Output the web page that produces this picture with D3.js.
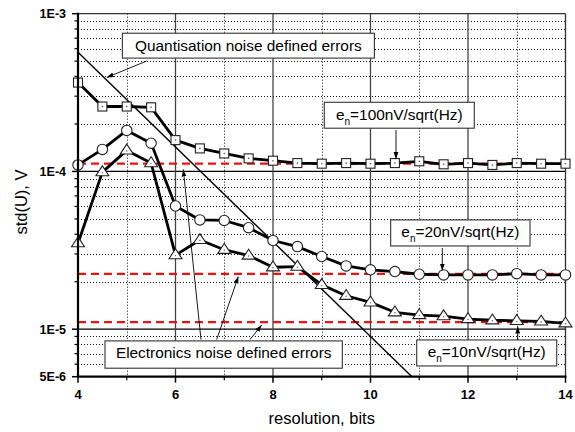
<!DOCTYPE html>
<html>
<head>
<meta charset="utf-8">
<script src="https://cdn.jsdelivr.net/npm/d3@7"></script>
<style>
  html, body { margin: 0; padding: 0; background: #fff; }
  svg { display: block; }
  text { font-family: Arial, "Liberation Sans", sans-serif; }
</style>
</head>
<body>
<svg id="chart" width="575" height="432"></svg>
<script>
// ---------------- data ----------------
const bits = [4, 4.5, 5, 5.5, 6, 6.5, 7, 7.5, 8, 8.5, 9, 9.5, 10, 10.5, 11, 11.5, 12, 12.5, 13, 13.5, 14];
const en100 = [3.66e-4, 2.58e-4, 2.58e-4, 2.55e-4, 1.58e-4, 1.40e-4, 1.30e-4, 1.21e-4, 1.17e-4, 1.13e-4, 1.12e-4, 1.13e-4, 1.12e-4, 1.13e-4, 1.16e-4, 1.11e-4, 1.13e-4, 1.10e-4, 1.13e-4, 1.12e-4, 1.12e-4];
const en20 = [1.10e-4, 1.38e-4, 1.82e-4, 1.51e-4, 6.04e-5, 4.93e-5, 4.89e-5, 4.40e-5, 3.65e-5, 3.34e-5, 2.89e-5, 2.52e-5, 2.38e-5, 2.32e-5, 2.23e-5, 2.21e-5, 2.21e-5, 2.21e-5, 2.25e-5, 2.21e-5, 2.21e-5];
const en10 = [3.51e-5, 9.9e-5, 1.36e-4, 1.13e-4, 2.95e-5, 3.68e-5, 3.19e-5, 2.93e-5, 2.47e-5, 2.49e-5, 1.91e-5, 1.63e-5, 1.48e-5, 1.28e-5, 1.23e-5, 1.21e-5, 1.16e-5, 1.14e-5, 1.13e-5, 1.12e-5, 1.09e-5];
const electronicsLevels = [1.12e-4, 2.24e-5, 1.11e-5];
const quantBits = [4, 10.85];
const quantVals = [5.7e-4, 5e-6];

const xTicks = [4, 6, 8, 10, 12, 14];
const xMinorTicks = [5, 7, 9, 11, 13];
const yTickVals = [1e-3, 1e-4, 1e-5, 5e-6];
const yTickLabels = ["1E-3", "1E-4", "1E-5", "5E-6"];
const yMinorVals = [2e-4, 3e-4, 4e-4, 5e-4, 6e-4, 7e-4, 8e-4, 9e-4,
                    2e-5, 3e-5, 4e-5, 5e-5, 6e-5, 7e-5, 8e-5, 9e-5,
                    6e-6, 7e-6, 8e-6, 9e-6];
const xTitle = "resolution, bits";
const yTitle = "std(U), V";

// annotation boxes (data coords): [x0, x1, yTop, yBottom]
const boxQuant = [4.91, 10.08, 7.52e-4, 5.23e-4];
const box100 = [9.052, 12.129, 2.745e-4, 1.88e-4];
const box20 = [10.414, 13.272, 4.93e-5, 3.37e-5];
const box10 = [10.948, 13.82, 8.55e-6, 5.85e-6];
const boxElec = [4.554, 9.422, 8.43e-6, 5.66e-6];
// arrows (data coords): [xFrom, yFrom, xTo, yTo]
const arrows = [
  [5.407, 5.01e-4, 4.589, 3.94e-4],
  [10.523, 1.83e-4, 10.523, 1.20e-4],
  [11.473, 3.27e-5, 11.473, 2.35e-5],
  [13.02, 8.55e-6, 13.02, 1.04e-5],
  [6.523, 8.6e-6, 6.16, 1.03e-4],
  [6.845, 8.6e-6, 7.288, 2.16e-5],
  [7.528, 8.6e-6, 7.768, 1.064e-5]
];

// ---------------- chart ----------------
const svg = d3.select("#chart");
const x = d3.scaleLinear().domain([4, 14]).range([78, 565.5]);
const y = d3.scaleLog().domain([5e-6, 1e-3]).range([376.7, 13.7]);
const [X0, X1] = x.range();
const [Y0, Y1] = y.range();

svg.append("defs").append("marker")
  .attr("id", "ah").attr("viewBox", "0 0 10 10")
  .attr("refX", 10).attr("refY", 5)
  .attr("markerWidth", 7).attr("markerHeight", 7)
  .attr("markerUnits", "userSpaceOnUse")
  .attr("orient", "auto")
  .append("path").attr("d", "M0,1.5 L10,5 L0,8.5 Z").attr("fill", "#000");

const grid = svg.append("g");
// dotted minor horizontal
grid.selectAll(".hm").data(yMinorVals).join("line")
  .attr("x1", X0).attr("x2", X1)
  .attr("y1", d => Math.round(y(d)) + 0.5).attr("y2", d => Math.round(y(d)) + 0.5)
  .attr("stroke", "#111").attr("stroke-width", 1).attr("stroke-dasharray", "1,2");
// dotted minor vertical
grid.selectAll(".vm").data(xMinorTicks).join("line")
  .attr("x1", d => Math.round(x(d)) + 0.5).attr("x2", d => Math.round(x(d)) + 0.5)
  .attr("y1", Y1).attr("y2", Y0)
  .attr("stroke", "#111").attr("stroke-width", 1).attr("stroke-dasharray", "1,2");
// solid major horizontal
grid.selectAll(".hM").data([1e-4, 1e-5]).join("line")
  .attr("x1", X0).attr("x2", X1)
  .attr("y1", d => y(d)).attr("y2", d => y(d))
  .attr("stroke", "#000").attr("stroke-width", 1.2);
// solid major vertical
grid.selectAll(".vM").data([6, 8, 10, 12]).join("line")
  .attr("x1", d => x(d)).attr("x2", d => x(d))
  .attr("y1", Y1).attr("y2", Y0)
  .attr("stroke", "#444").attr("stroke-width", 1.3);

// red dashed electronics noise levels
svg.selectAll(".red").data(electronicsLevels).join("line")
  .attr("x1", X0).attr("x2", X1)
  .attr("y1", d => y(d)).attr("y2", d => y(d))
  .attr("stroke", "#ee1111").attr("stroke-width", 2.2).attr("stroke-dasharray", "8,5");

// frame
svg.append("line").attr("x1", X0).attr("x2", X1).attr("y1", Y1).attr("y2", Y1)
  .attr("stroke", "#333").attr("stroke-width", 1.3);
svg.append("line").attr("x1", X1).attr("x2", X1).attr("y1", Y1).attr("y2", Y0)
  .attr("stroke", "#333").attr("stroke-width", 1.3);

// quantisation line
const qLine = d3.line().x(d => x(d[0])).y(d => y(d[1]));
svg.append("path").datum(d3.zip(quantBits, quantVals))
  .attr("d", qLine).attr("fill", "none").attr("stroke", "#000").attr("stroke-width", 1.4);

// series lines
const series = [
  { vals: en100, shape: "square" },
  { vals: en20, shape: "circle" },
  { vals: en10, shape: "triangle" }
];
const line = d3.line().x(d => x(d[0])).y(d => y(d[1]));
series.forEach(s => {
  svg.append("path").datum(d3.zip(bits, s.vals))
    .attr("d", line).attr("fill", "none")
    .attr("stroke", "#000").attr("stroke-width", 2.8).attr("stroke-linejoin", "round");
});
series.forEach(s => {
  const g = svg.append("g");
  const pts = d3.zip(bits, s.vals);
  if (s.shape === "square") {
    g.selectAll("rect").data(pts).join("rect")
      .attr("x", d => x(d[0]) - 4.5).attr("y", d => y(d[1]) - 4.5)
      .attr("width", 9).attr("height", 9)
      .attr("fill", "#fff").attr("stroke", "#222").attr("stroke-width", 1.1);
    g.selectAll("circle").data(pts).join("circle")
      .attr("cx", d => x(d[0])).attr("cy", d => y(d[1])).attr("r", 0.8).attr("fill", "#555");
  } else if (s.shape === "circle") {
    g.selectAll("circle").data(pts).join("circle")
      .attr("cx", d => x(d[0])).attr("cy", d => y(d[1])).attr("r", 5.2)
      .attr("fill", "#fff").attr("stroke", "#222").attr("stroke-width", 1.1);
  } else {
    g.selectAll("path").data(pts).join("path")
      .attr("d", d => {
        const cx = x(d[0]), cy = y(d[1]);
        return `M${cx},${cy - 6.3} L${cx + 6.5},${cy + 3.6} L${cx - 6.5},${cy + 3.6} Z`;
      })
      .attr("fill", "#fff").attr("stroke", "#222").attr("stroke-width", 1.1);
    g.selectAll("circle").data(pts).join("circle")
      .attr("cx", d => x(d[0])).attr("cy", d => y(d[1]) + 0.5).attr("r", 0.7).attr("fill", "#555");
  }
});

// axes (thick left and bottom)
svg.append("line").attr("x1", X0).attr("x2", X0).attr("y1", Y1 - 1).attr("y2", Y0 + 1)
  .attr("stroke", "#000").attr("stroke-width", 2.2);
svg.append("line").attr("x1", X0 - 1).attr("x2", X1 + 1).attr("y1", Y0).attr("y2", Y0)
  .attr("stroke", "#000").attr("stroke-width", 2.2);

// y ticks
svg.selectAll(".ytM").data(yTickVals).join("line")
  .attr("x1", X0 - 6).attr("x2", X0).attr("y1", d => y(d)).attr("y2", d => y(d))
  .attr("stroke", "#000").attr("stroke-width", 1.5);
svg.selectAll(".ytm").data(yMinorVals).join("line")
  .attr("x1", X0 - 3.5).attr("x2", X0).attr("y1", d => y(d)).attr("y2", d => y(d))
  .attr("stroke", "#000").attr("stroke-width", 1.2);
svg.selectAll(".ytl").data(yTickVals).join("text")
  .attr("x", 66).attr("y", d => y(d)).attr("dy", "0.36em")
  .attr("text-anchor", "end").attr("font-size", "12.5px").attr("font-weight", "bold")
  .text((d, i) => yTickLabels[i]);

// x ticks
svg.selectAll(".xtM").data(xTicks).join("line")
  .attr("x1", d => x(d)).attr("x2", d => x(d)).attr("y1", Y0).attr("y2", Y0 + 6)
  .attr("stroke", "#000").attr("stroke-width", 1.5);
svg.selectAll(".xtm").data(xMinorTicks).join("line")
  .attr("x1", d => x(d)).attr("x2", d => x(d)).attr("y1", Y0).attr("y2", Y0 + 3.5)
  .attr("stroke", "#000").attr("stroke-width", 1.2);
svg.selectAll(".xtl").data(xTicks).join("text")
  .attr("x", d => x(d)).attr("y", 399)
  .attr("text-anchor", "middle").attr("font-size", "13px").attr("font-weight", "bold")
  .text(d => d);

// axis titles
svg.append("text").attr("x", (X0 + X1) / 2).attr("y", 424)
  .attr("text-anchor", "middle").attr("font-size", "16.5px").text(xTitle);
svg.append("text").attr("transform", "translate(27,202) rotate(-90)")
  .attr("text-anchor", "middle").attr("font-size", "16.5px").text(yTitle);

// annotation boxes
function box(b, content) {
  const bx = x(b[0]), bw = x(b[1]) - x(b[0]);
  const by = y(b[2]), bh = y(b[3]) - y(b[2]);
  svg.append("rect").attr("x", bx).attr("y", by).attr("width", bw).attr("height", bh)
    .attr("fill", "#fff").attr("stroke", "#333").attr("stroke-width", 1.1);
  const t = svg.append("text").attr("x", bx + bw / 2).attr("y", by + 17.5)
    .attr("text-anchor", "middle").attr("font-size", "15.4px");
  content(t);
}
function enText(val) {
  return t => {
    t.append("tspan").text("e");
    t.append("tspan").attr("font-size", "10px").attr("dy", 5).text("n");
    t.append("tspan").attr("dy", -5).text("=" + val + "nV/sqrt(Hz)");
  };
}
box(boxQuant, t => t.text("Quantisation noise defined errors"));
box(box100, enText(100));
box(box20, enText(20));
box(box10, enText(10));
box(boxElec, t => t.text("Electronics noise defined errors"));

// arrows
svg.selectAll(".arr").data(arrows).join("line")
  .attr("x1", d => x(d[0])).attr("y1", d => y(d[1]))
  .attr("x2", d => x(d[2])).attr("y2", d => y(d[3]))
  .attr("stroke", "#000").attr("stroke-width", 0.9)
  .attr("marker-end", "url(#ah)");
</script>
</body>
</html>
